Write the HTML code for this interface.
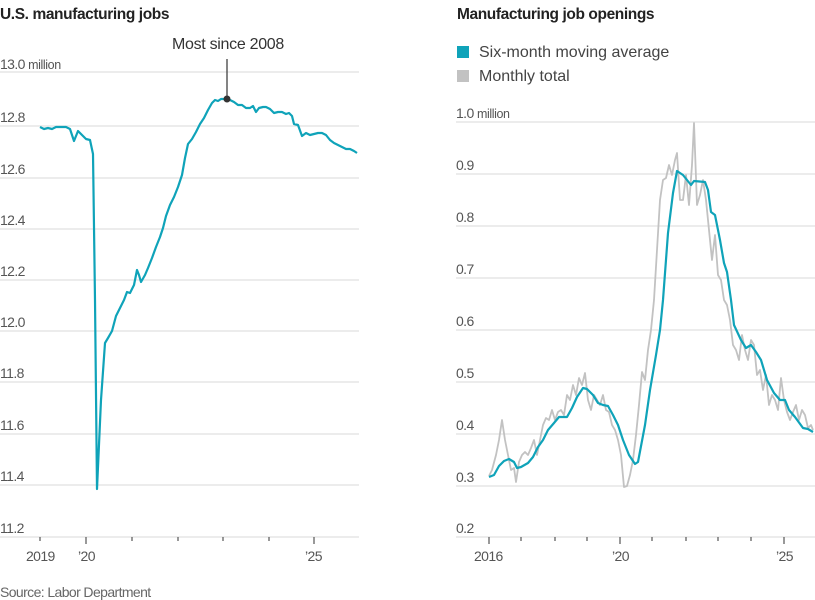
<!DOCTYPE html>
<html><head><meta charset="utf-8"><style>
html,body{margin:0;padding:0;background:#fff;width:815px;height:600px;overflow:hidden}
svg{display:block;font-family:"Liberation Sans",sans-serif}
.t{font-weight:bold;font-size:15.5px;fill:#222;letter-spacing:-0.4px}
.y{font-size:14px;fill:#555;letter-spacing:-0.6px}
.m{font-size:12.5px;fill:#555;letter-spacing:-0.4px}
.g{stroke:#e6e6e6;stroke-width:1.5}
.tk{stroke:#555;stroke-width:1.2}
</style></head><body>
<svg width="815" height="600" viewBox="0 0 815 600">
<text class="t" x="0" y="19">U.S. manufacturing jobs</text>
<text class="t" x="457" y="19">Manufacturing job openings</text>
<!-- left grid -->
<g class="g">
<line x1="0" x2="359" y1="72" y2="72"/><line x1="0" x2="359" y1="126" y2="126"/>
<line x1="0" x2="359" y1="178" y2="178"/><line x1="0" x2="359" y1="229" y2="229"/>
<line x1="0" x2="359" y1="280" y2="280"/><line x1="0" x2="359" y1="331" y2="331"/>
<line x1="0" x2="359" y1="382" y2="382"/><line x1="0" x2="359" y1="434" y2="434"/>
<line x1="0" x2="359" y1="485" y2="485"/><line x1="0" x2="359" y1="537" y2="537"/>
</g>
<g class="y">
<text x="0" y="69">13.0 <tspan class="m">million</tspan></text>
<text x="0" y="122">12.8</text><text x="0" y="174">12.6</text><text x="0" y="225">12.4</text>
<text x="0" y="276">12.2</text><text x="0" y="327">12.0</text><text x="0" y="378">11.8</text>
<text x="0" y="430">11.6</text><text x="0" y="481">11.4</text><text x="0" y="533">11.2</text>
<text x="26" y="561">2019</text><text x="78" y="561">’20</text><text x="305" y="561">’25</text>
</g>
<g class="tk">
<line x1="40" x2="40" y1="537" y2="541"/><line x1="86" x2="86" y1="537" y2="544"/>
<line x1="132" x2="132" y1="537" y2="541"/><line x1="178" x2="178" y1="537" y2="541"/>
<line x1="223" x2="223" y1="537" y2="541"/><line x1="269" x2="269" y1="537" y2="541"/>
<line x1="314" x2="314" y1="537" y2="544"/>
</g>
<polyline fill="none" stroke="#0fa3b9" stroke-width="2.2" stroke-linejoin="round" points="40,127 44,129 48,128 52,129 56,127 60,127 66,127 70,129 74,141 78,131 82,135 86,139 90,140 93,154 95,300 97,489 101,400 105,343 108,338 112,331 116,316 120,308 124,300 127,292 130,293 134,285 137,270 139,275 141,282 145,275 148,268 152,258 156,247 160,237 163,228 166,216 170,205 174,197 178,187 182,175 185,158 188,144 192,139 196,132 200,124 204,118 208,110 212,103 215,100 218,101 221,99 226,99 230,100 234,102 238,105 242,105 246,108 250,108 253,106 256,112 259,108 263,107 266,107 270,109 274,113 278,112 282,112 286,114 289,113 292,116 294,124 298,125 302,136 306,133 310,135 314,134 318,133 322,133 326,135 330,140 334,143 338,145 342,147 346,149 350,149 354,151 357,153"/>
<line x1="227" x2="227" y1="59" y2="97" stroke="#333" stroke-width="1.2"/>
<circle cx="227" cy="99" r="3.5" fill="#333"/>
<text x="228" y="49" text-anchor="middle" style="font-size:16px;fill:#333;letter-spacing:-0.3px">Most since 2008</text>
<text x="0" y="597" style="font-size:14px;fill:#666;letter-spacing:-0.6px">Source: Labor Department</text>

<!-- right -->
<rect x="457" y="46" width="12" height="12" fill="#0fa3b9"/>
<rect x="457" y="70" width="12" height="12" fill="#c2c2c2"/>
<text x="479" y="57" style="font-size:16px;fill:#444">Six-month moving average</text>
<text x="479" y="81" style="font-size:16px;fill:#444">Monthly total</text>
<g class="g">
<line x1="456" x2="815" y1="122" y2="122"/><line x1="456" x2="815" y1="174" y2="174"/>
<line x1="456" x2="815" y1="226" y2="226"/><line x1="456" x2="815" y1="278" y2="278"/>
<line x1="456" x2="815" y1="330" y2="330"/><line x1="456" x2="815" y1="382" y2="382"/>
<line x1="456" x2="815" y1="434" y2="434"/><line x1="456" x2="815" y1="486" y2="486"/>
<line x1="456" x2="815" y1="537" y2="537"/>
</g>
<g class="y">
<text x="456" y="118">1.0 <tspan class="m">million</tspan></text>
<text x="456" y="170">0.9</text><text x="456" y="222">0.8</text><text x="456" y="274">0.7</text>
<text x="456" y="326">0.6</text><text x="456" y="378">0.5</text><text x="456" y="430">0.4</text>
<text x="456" y="482">0.3</text><text x="456" y="533">0.2</text>
<text x="474" y="561">2016</text><text x="612" y="561">’20</text><text x="776" y="561">’25</text>
</g>
<g class="tk">
<line x1="489" x2="489" y1="537" y2="544"/><line x1="521" x2="521" y1="537" y2="541"/>
<line x1="555" x2="555" y1="537" y2="541"/><line x1="587" x2="587" y1="537" y2="541"/>
<line x1="620" x2="620" y1="537" y2="544"/><line x1="652" x2="652" y1="537" y2="541"/>
<line x1="686" x2="686" y1="537" y2="541"/><line x1="718" x2="718" y1="537" y2="541"/>
<line x1="751" x2="751" y1="537" y2="541"/><line x1="784" x2="784" y1="537" y2="544"/>
</g>
<polyline fill="none" stroke="#c2c2c2" stroke-width="1.8" stroke-linejoin="round" points="489,476 492,470 496,455 499,440 502,420 505,440 508,455 511,470 514,468 516,482 519,462 522,455 525,452 528,455 531,448 534,440 537,455 540,440 543,425 546,418 549,420 552,410 555,420 558,412 561,410 564,415 567,395 570,400 573,385 576,395 579,378 582,385 585,373 588,400 591,410 594,395 597,400 600,405 603,395 606,410 609,412 612,425 615,430 618,440 621,455 624,487 627,486 630,475 633,460 636,435 639,405 642,372 645,380 648,350 651,330 654,300 657,250 660,200 663,180 666,178 669,165 672,175 675,160 677,153 680,200 683,200 686,175 689,205 692,165 694,123 697,205 700,195 703,180 706,200 709,230 712,260 715,235 718,275 721,280 724,300 727,305 730,320 733,345 736,350 739,360 742,335 745,350 748,360 751,340 754,345 757,375 760,370 763,390 766,375 769,405 772,395 775,400 778,410 781,378 784,400 787,412 790,420 793,412 796,405 799,420 802,410 805,415 808,428 811,425 813,430"/>
<polyline fill="none" stroke="#0fa3b9" stroke-width="2.2" stroke-linejoin="round" points="489,477 494,475 499,466 504,461 509,459 514,462 517,468 521,467 528,463 533,457 538,447 543,440 548,430 554,423 559,417 567,417 572,408 577,397 583,388 587,389 593,395 598,403 603,405 608,406 613,415 618,425 623,440 629,455 635,464 638,462 645,425 650,390 656,355 660,330 663,300 668,233 673,193 677,171 683,175 691,185 694,181 705,182 708,190 711,212 715,215 720,240 724,263 727,272 731,300 734,325 741,340 746,348 751,345 756,352 761,360 767,380 774,393 780,400 785,400 789,410 795,417 803,428 808,429 813,432"/>
</svg>
</body></html>
